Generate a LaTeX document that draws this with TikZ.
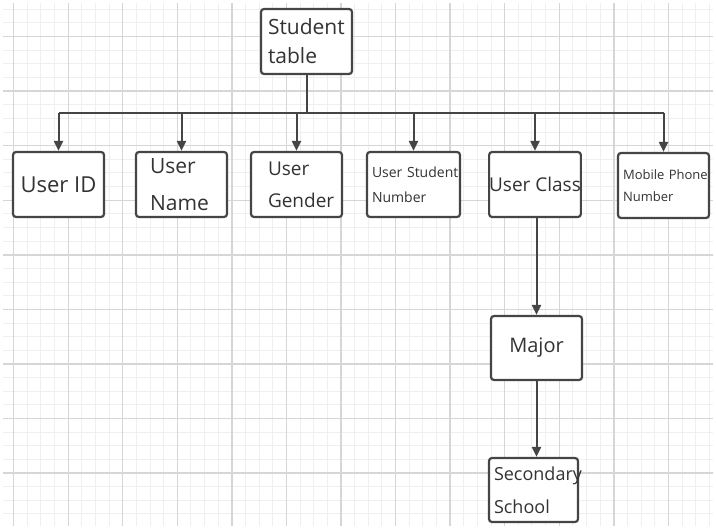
\documentclass[tikz,border=0pt]{standalone}
\usepackage{fontspec}
\setmainfont{Open Sans}
\usetikzlibrary{arrows.meta,positioning}
\definecolor{linec}{HTML}{454545}
\definecolor{textc}{HTML}{333333}
\definecolor{gridlo}{HTML}{EFEFEF}
\definecolor{gridhi}{HTML}{D6D6D6}
\newcommand{\fs}[2]{\fontsize{#1}{#2}\selectfont}
\tikzset{
  box/.style={draw=linec, line width=1.1pt, rounded corners=1.5pt, fill=white, inner sep=0pt,
              minimum width=45.5pt, minimum height=32.5pt, text=textc},
  lbox/.style={box, align=left, text width=#1, execute at begin node={\hyphenpenalty=10000}},
  wire/.style={draw=linec, line width=1pt},
  link/.style={wire, -{Triangle[length=5pt,width=4.5pt]}},
  minorgrid/.style={draw=gridlo, line width=0.5pt},
  majorgrid/.style={draw=gridhi, line width=0.7pt}
}

\begin{document}
\begin{tikzpicture}[x=0.5pt,y=-0.5pt]
    \useasboundingbox (0,0) rectangle (716,529);

    % background grid
    \foreach \k in {1,...,52} \draw[minorgrid] ({13.64*\k},3) -- ({13.64*\k},526);
    \foreach \j in {0,...,37} \draw[minorgrid] (3,{9.3+13.64*\j}) -- (713,{9.3+13.64*\j});
    \foreach \k in {1,5,...,49} \draw[majorgrid] ({13.64*\k},3) -- ({13.64*\k},526);
    \foreach \j in {2,6,...,34} \draw[majorgrid] (3,{9.3+13.64*\j}) -- (713,{9.3+13.64*\j});

    % boxes
    \node[lbox=38.5pt, font=\fs{10.5}{14.5}] (st) at (306.5,41.5) {Student\\table};
    \node[box, font=\fs{11}{13}] (uid) at (58.5,184.5) {User ID};
    \node[lbox=31.5pt, font=\fs{10.5}{18.5}] (uname) at (181.5,184.5) {User\\Name};
    \node[lbox=28.5pt, font=\fs{9.5}{16}] (ugen) at (296.5,184.5) {User\\Gender};
    \node[lbox=41.5pt, minimum width=46.5pt, font=\fs{7}{12.5}] (usn) at (413.5,184.5) {User~Student\\Number};
    \node[box, minimum width=45pt, font=\fs{9.5}{12}] (ucls) at (535,184.5) {User Class};
    \node[lbox=40.5pt, font=\fs{6.5}{11}] (mob) at (663.5,185.5) {Mobile~Phone\\Number};
    \node[box, minimum height=32pt, font=\fs{10}{12}] (major) at (536.5,348) {Major};
    \node[lbox=39.5pt, minimum width=44.5pt, minimum height=32pt, font=\fs{9}{16.5}] (sec) at (533.5,490) {Secondary\\School};

    % connectors
    \coordinate (bus) at (306.5,113);
    \draw[wire] (st) -- (bus);
    \draw[wire] (uid |- bus) -- (mob |- bus);
    \foreach \n in {uid,uname,ugen,usn,ucls,mob}
        \draw[link] (\n |- bus) -- (\n);
    \draw[link] (major |- ucls.south) -- (major);
    \draw[link] (major) -- (major |- sec.north);
\end{tikzpicture}
\end{document}
